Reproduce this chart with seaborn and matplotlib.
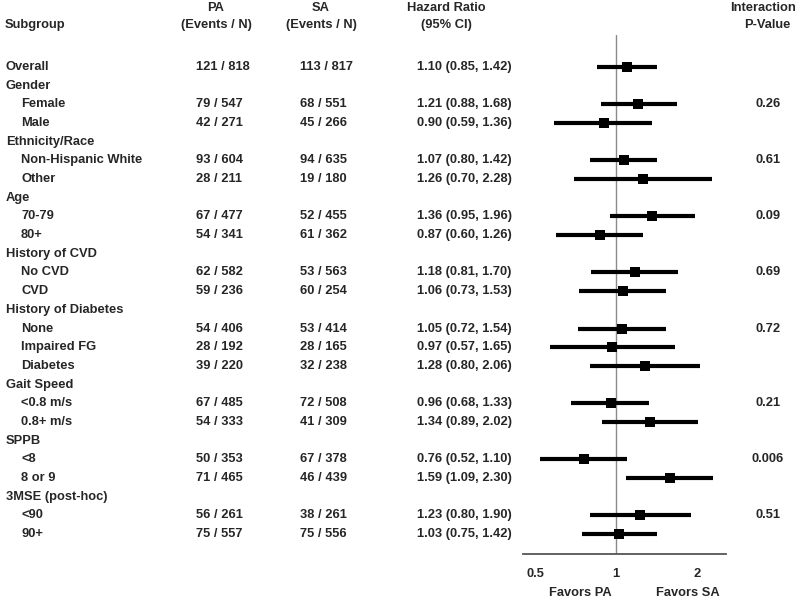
import numpy as np
import pandas as pd
import matplotlib
matplotlib.use("Agg")
import matplotlib.pyplot as plt
import matplotlib.transforms as mtransforms
import seaborn as sns

# rows of the forest plot (group headers have no numbers)
labels = ["Overall", "Gender", "Female", "Male", "Ethnicity/Race", "Non-Hispanic White", "Other",
          "Age", "70-79", "80+", "History of CVD", "No CVD", "CVD",
          "History of Diabetes", "None", "Impaired FG", "Diabetes",
          "Gait Speed", "<0.8 m/s", "0.8+ m/s", "SPPB", "<8", "8 or 9",
          "3MSE (post-hoc)", "<90", "90+"]
is_sub = [False, False, True, True, False, True, True,
          False, True, True, False, True, True,
          False, True, True, True,
          False, True, True, False, True, True,
          False, True, True]
pa_txt = ["121 / 818", "", "79 / 547", "42 / 271", "", "93 / 604", "28 / 211",
          "", "67 / 477", "54 / 341", "", "62 / 582", "59 / 236",
          "", "54 / 406", "28 / 192", "39 / 220",
          "", "67 / 485", "54 / 333", "", "50 / 353", "71 / 465",
          "", "56 / 261", "75 / 557"]
sa_txt = ["113 / 817", "", "68 / 551", "45 / 266", "", "94 / 635", "19 / 180",
          "", "52 / 455", "61 / 362", "", "53 / 563", "60 / 254",
          "", "53 / 414", "28 / 165", "32 / 238",
          "", "72 / 508", "41 / 309", "", "67 / 378", "46 / 439",
          "", "38 / 261", "75 / 556"]
hr = [1.10, None, 1.21, 0.90, None, 1.07, 1.26,
      None, 1.36, 0.87, None, 1.18, 1.06,
      None, 1.05, 0.97, 1.28,
      None, 0.96, 1.34, None, 0.76, 1.59,
      None, 1.23, 1.03]
lo = [0.85, None, 0.88, 0.59, None, 0.80, 0.70,
      None, 0.95, 0.60, None, 0.81, 0.73,
      None, 0.72, 0.57, 0.80,
      None, 0.68, 0.89, None, 0.52, 1.09,
      None, 0.80, 0.75]
hi = [1.42, None, 1.68, 1.36, None, 1.42, 2.28,
      None, 1.96, 1.26, None, 1.70, 1.53,
      None, 1.54, 1.65, 2.06,
      None, 1.33, 2.02, None, 1.10, 2.30,
      None, 1.90, 1.42]
pval = ["", "", "0.26", "", "", "0.61", "",
        "", "0.09", "", "", "0.69", "",
        "", "0.72", "", "",
        "", "0.21", "", "", "0.006", "",
        "", "0.51", ""]

df = pd.DataFrame({"label": labels, "hr": hr, "lo": lo, "hi": hi})
df["row"] = np.arange(len(df))
est = df.dropna(subset=["hr"])

sns.set_style("white")
plt.rcParams["font.family"] = ["Liberation Sans", "DejaVu Sans"]
plt.rcParams["font.weight"] = "bold"
fs = 9.3

fig = plt.figure(figsize=(8, 6.02), dpi=100)
ax = fig.add_axes([523 / 800, 1 - 554 / 602, 203 / 800, (554 - 35) / 602])

ax.axvline(1, color="#8a8a8a", lw=1.0, zorder=1)
ax.hlines(est["row"], est["lo"], est["hi"], color="black", lw=3.0, zorder=2)
sns.scatterplot(data=est, x="hr", y="row", marker="s", color="black", s=48,
                edgecolor="black", linewidth=0, ax=ax, zorder=3)

ax.set_xscale("log", base=2)
ax.set_xlim(0.451, 2.563)
ax.set_ylim(26.07, -1.713)
ax.set_xticks([0.5, 1, 2])
ax.set_xticklabels(["0.5", "1", "2"], fontsize=fs, fontweight="bold")
ax.minorticks_off()
ax.set_yticks([])
ax.set_xlabel("")
ax.set_ylabel("")
for s in ["top", "left", "right"]:
    ax.spines[s].set_visible(False)
ax.spines["bottom"].set_color("#555555")
ax.spines["bottom"].set_linewidth(1.3)
ax.tick_params(axis="x", direction="out", length=5, width=1.3, color="#555555", pad=5)

# text columns, x in figure fraction, y in data rows
tr = mtransforms.blended_transform_factory(fig.transFigure, ax.transData)
for i in range(len(labels)):
    x0 = 21 / 800 if is_sub[i] else 6 / 800
    ax.text(x0, i, labels[i], transform=tr, ha="left", va="center", fontsize=fs,
            fontweight="bold", clip_on=False)
    if pa_txt[i]:
        ax.text(196 / 800, i, pa_txt[i], transform=tr, ha="left", va="center",
                fontsize=fs, fontweight="bold", clip_on=False)
        ax.text(300 / 800, i, sa_txt[i], transform=tr, ha="left", va="center",
                fontsize=fs, fontweight="bold", clip_on=False)
        ax.text(417 / 800, i, "%.2f (%.2f, %.2f)" % (hr[i], lo[i], hi[i]), transform=tr,
                ha="left", va="center", fontsize=fs, fontweight="bold", clip_on=False)
    if pval[i]:
        ax.text(768 / 800, i, pval[i], transform=tr, ha="center", va="center",
                fontsize=fs, fontweight="bold", clip_on=False)

# column headers
y1 = 1 - 8 / 602
y2 = 1 - 25 / 602
fig.text(5 / 800, y2, "Subgroup", ha="left", va="center", fontsize=fs, fontweight="bold")
fig.text(216 / 800, y1, "PA", ha="center", va="center", fontsize=fs, fontweight="bold")
fig.text(216 / 800, y2, "(Events / N)", ha="center", va="center", fontsize=fs, fontweight="bold")
fig.text(321 / 800, y1, "SA", ha="center", va="center", fontsize=fs, fontweight="bold")
fig.text(321 / 800, y2, "(Events / N)", ha="center", va="center", fontsize=fs, fontweight="bold")
fig.text(446 / 800, y1, "Hazard Ratio", ha="center", va="center", fontsize=fs, fontweight="bold")
fig.text(446 / 800, y2, "(95% CI)", ha="center", va="center", fontsize=fs, fontweight="bold")
fig.text(763 / 800, y1, "Interaction", ha="center", va="center", fontsize=fs, fontweight="bold")
fig.text(767 / 800, y2, "P-Value", ha="center", va="center", fontsize=fs, fontweight="bold")

# direction labels under the axis
fig.text(580 / 800, 1 - 593 / 602, "Favors PA", ha="center", va="center", fontsize=fs, fontweight="bold")
fig.text(688 / 800, 1 - 593 / 602, "Favors SA", ha="center", va="center", fontsize=fs, fontweight="bold")

fig.savefig("out.png", dpi=100)
